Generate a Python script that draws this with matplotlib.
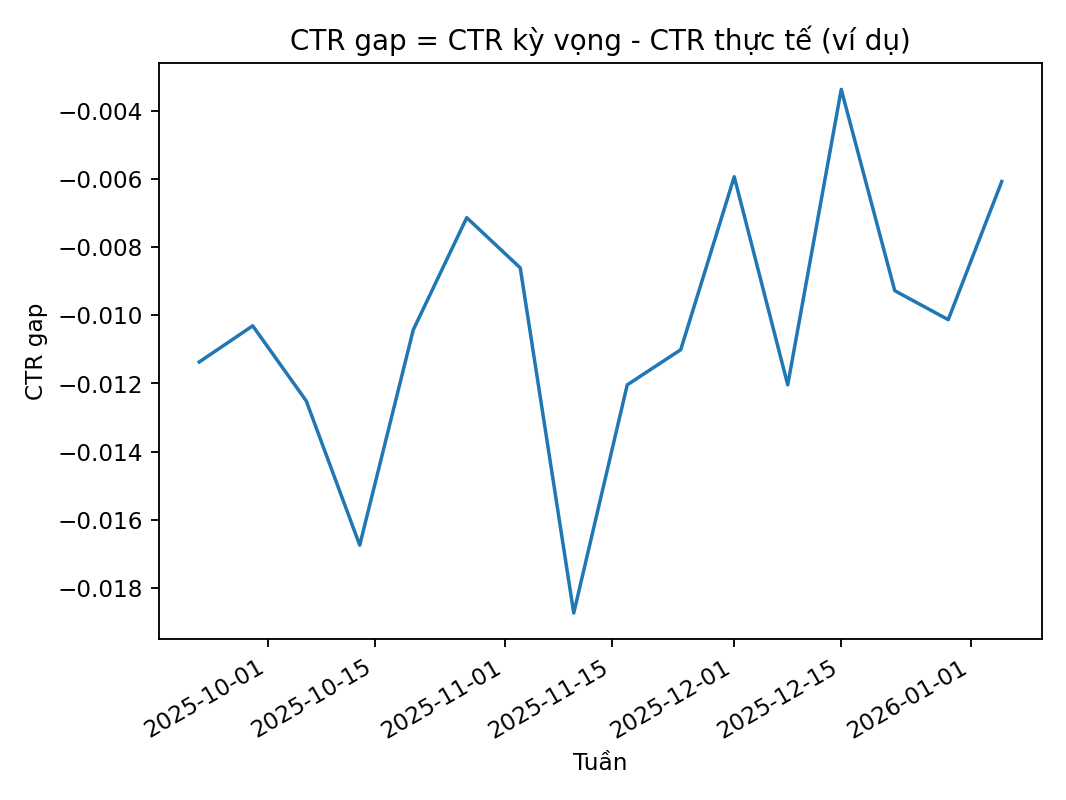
import pandas as pd
import matplotlib
matplotlib.use('Agg')
from matplotlib import pyplot as plt

weeks = pd.date_range('2025-09-22', periods=16, freq='7D')
ctr_gap = [-0.01137, -0.01031, -0.01251, -0.01674, -0.01043, -0.00714, -0.00861, -0.01873,
           -0.01204, -0.01101, -0.00594, -0.01204, -0.00338, -0.00928, -0.01013, -0.00608]

fig, ax = plt.subplots(figsize=(6.4, 4.8), dpi=166.7)
ax.plot(weeks, ctr_gap)
ax.set_title('CTR gap = CTR kỳ vọng - CTR thực tế (ví dụ)')
ax.set_xlabel('Tuần')
ax.set_ylabel('CTR gap')
fig.autofmt_xdate()
fig.tight_layout()
fig.savefig('out.png', dpi=166.7)
